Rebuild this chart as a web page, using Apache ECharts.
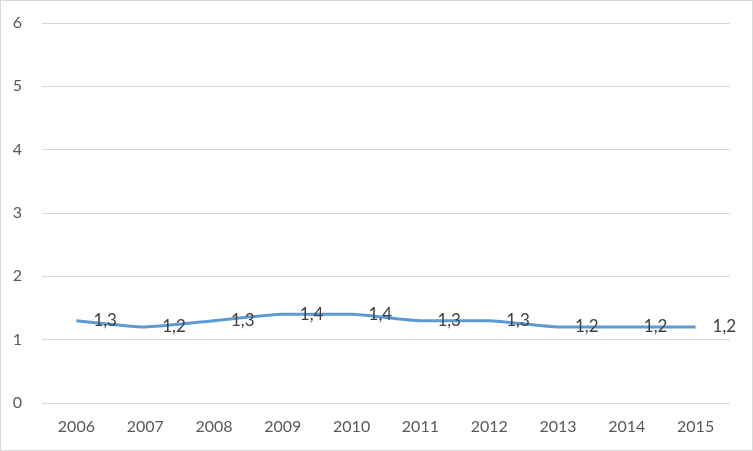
<!DOCTYPE html>
<html>
<head>
<meta charset="utf-8">
<script src="https://cdn.jsdelivr.net/npm/echarts@6/dist/echarts.min.js"></script>
<style>
html,body{margin:0;padding:0;background:#fff;}
#c{width:753px;height:451px;box-sizing:border-box;border:1px solid #d9d9d9;}
</style>
</head>
<body>
<div id="c"></div>
<script>
const years = ['2006','2007','2008','2009','2010','2011','2012','2013','2014','2015'];
const values = [1.3, 1.2, 1.3, 1.4, 1.4, 1.3, 1.3, 1.2, 1.2, 1.2];
const yTicks = [0, 1, 2, 3, 4, 5, 6];

const chart = echarts.init(document.getElementById('c'), null, {renderer: 'canvas'});
chart.setOption({
  animation: false,
  grid: {left: 41, right: 22, top: 22, bottom: 47, containLabel: false},
  xAxis: {
    type: 'category',
    data: years,
    boundaryGap: true,
    axisLine: {show: true, lineStyle: {color: '#d9d9d9', width: 1}},
    axisTick: {show: false},
    axisLabel: {color: '#595959', fontSize: 16, fontFamily: 'Lato, "Open Sans", sans-serif', margin: 16}
  },
  yAxis: {
    type: 'value',
    min: yTicks[0],
    max: yTicks[yTicks.length - 1],
    interval: 1,
    axisLine: {show: false},
    axisTick: {show: false},
    splitLine: {lineStyle: {color: '#d9d9d9', width: 1}},
    axisLabel: {color: '#595959', fontSize: 16, fontFamily: 'Lato, "Open Sans", sans-serif', margin: 20}
  },
  series: [{
    type: 'line',
    data: values,
    smooth: 0.15,
    symbol: 'circle',
    symbolSize: 2,
    showSymbol: true,
    itemStyle: {color: '#5b9bd5', opacity: 0},
    lineStyle: {color: '#5b9bd5', width: 3},
    label: {
      show: true,
      position: 'right',
      distance: 16,
      color: '#404040',
      opacity: 1,
      fontSize: 17,
      fontFamily: 'Lato, "Open Sans", sans-serif',
      formatter: p => String(p.value).replace('.', ',')
    }
  }]
});
</script>
</body>
</html>
